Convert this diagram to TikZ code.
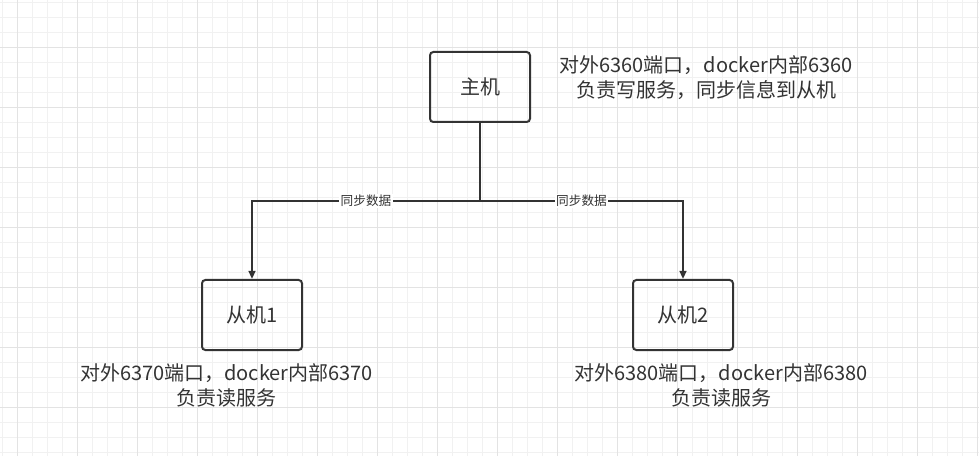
\documentclass[tikz,border=0pt]{standalone}
\usepackage{fontspec}
\newfontfamily\cjk{Noto Sans CJK SC}
\usetikzlibrary{arrows.meta}
\definecolor{ink}{HTML}{333333}
\definecolor{gridminor}{HTML}{F1F1F1}
\definecolor{gridmajor}{HTML}{E3E3E3}
\begin{document}
\begin{tikzpicture}[x=0.75pt, y=-0.75pt,
  box/.style={draw=ink, line width=1.5pt, rounded corners=2.5pt, minimum width=75pt, minimum height=52.5pt, inner sep=0pt, font=\cjk\fontsize{15pt}{18pt}\selectfont, text=ink},
  note/.style={align=center, inner sep=0pt, font=\cjk\fontsize{15pt}{18.75pt}\selectfont, text=ink},
  lbl/.style={fill=white, inner sep=1pt, font=\cjk\fontsize{9.5pt}{11pt}\selectfont, text=ink},
  link/.style={draw=ink, line width=1.5pt, -{Triangle[length=6pt, width=5pt]}}]
\useasboundingbox (0,0) rectangle (979,456);
\fill[white] (0,0) rectangle (979,456);
% grid
\foreach \gx in {2.5,17.5,...,977.5} \draw[gridminor, line width=0.75pt] (\gx,0) -- (\gx,456);
\foreach \gy in {2.5,17.5,...,452.5} \draw[gridminor, line width=0.75pt] (0,\gy) -- (979,\gy);
\foreach \gx in {17.5,77.5,...,977.5} \draw[gridmajor, line width=0.75pt] (\gx,0) -- (\gx,456);
\foreach \gy in {47.5,107.5,...,452.5} \draw[gridmajor, line width=0.75pt] (0,\gy) -- (979,\gy);
% boxes
\node[box] (master) at (480,87) {主机};
\node[box] (slave1) at (252,315) {从机1};
\node[box] (slave2) at (683,315) {从机2};
% notes
\node[note] (masternote) at (706,77.5) {对外6360端口，docker内部6360\\负责写服务，同步信息到从机};
\node[note] (slave1note) at (226.5,385.5) {对外6370端口，docker内部6370\\负责读服务};
\node[note] (slave2note) at (721,385.5) {对外6380端口，docker内部6380\\负责读服务};
% links
\coordinate (split) at (480,201);
\draw[link] (master.south) -- (split) -| node[lbl, pos=0.25] {同步数据} (slave1.north);
\draw[link] (master.south) -- (split) -| node[lbl, pos=0.25] {同步数据} (slave2.north);
\end{tikzpicture}
\end{document}
